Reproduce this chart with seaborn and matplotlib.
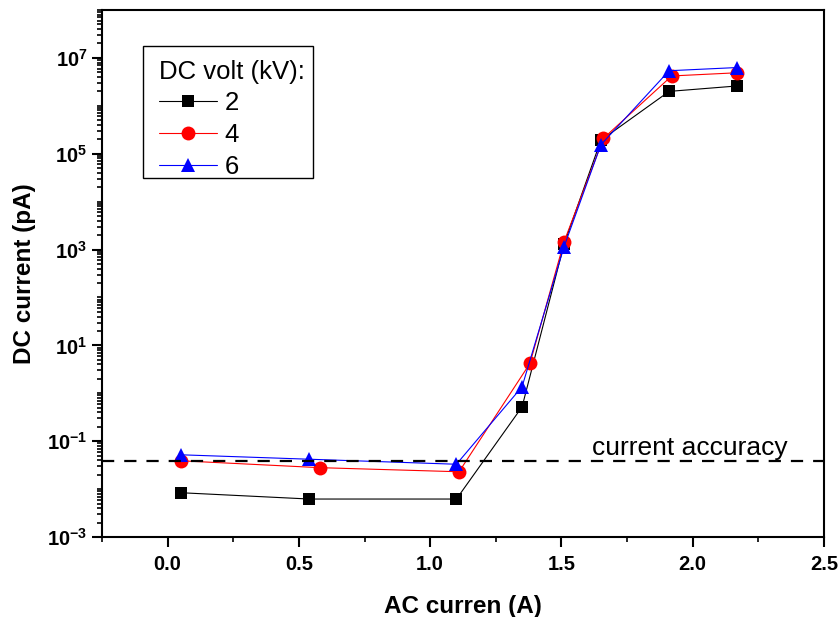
import numpy as np
import pandas as pd
import seaborn as sns
import matplotlib
matplotlib.use('Agg')
import matplotlib.pyplot as plt
from matplotlib import ticker
from matplotlib.patches import Rectangle

# AC current (A) and DC current (pA) for each DC voltage (kV)
volt_labels = ['2', '4', '6']
ac_2kv = [0.05, 0.54, 1.10, 1.35, 1.51, 1.65, 1.91, 2.17]
dc_2kv = [0.0084, 0.0062, 0.0062, 0.52, 1300, 1.9e5, 2.0e6, 2.6e6]
ac_4kv = [0.05, 0.58, 1.11, 1.38, 1.51, 1.66, 1.92, 2.17]
dc_4kv = [0.039, 0.028, 0.023, 4.2, 1460, 2.1e5, 4.2e6, 4.9e6]
ac_6kv = [0.05, 0.54, 1.10, 1.35, 1.51, 1.65, 1.91, 2.17]
dc_6kv = [0.052, 0.042, 0.033, 1.37, 1150, 1.53e5, 5.4e6, 6.3e6]
accuracy_level = 0.039

df = pd.concat([
    pd.DataFrame({'ac': ac_2kv, 'dc': dc_2kv, 'volt': '2'}),
    pd.DataFrame({'ac': ac_4kv, 'dc': dc_4kv, 'volt': '4'}),
    pd.DataFrame({'ac': ac_6kv, 'dc': dc_6kv, 'volt': '6'}),
], ignore_index=True)

sns.set_style('ticks')
plt.rcParams['font.family'] = ['Liberation Sans', 'DejaVu Sans']
plt.rcParams['mathtext.fontset'] = 'custom'
plt.rcParams['mathtext.bf'] = 'Liberation Sans:bold'
plt.rcParams['mathtext.rm'] = 'Liberation Sans'
for key in ['text.color', 'axes.labelcolor', 'xtick.color', 'ytick.color', 'axes.edgecolor']:
    plt.rcParams[key] = 'black'

fig = plt.figure(figsize=(8.4, 6.17), dpi=100)
ax = fig.add_axes([102 / 840, 1 - 537 / 617, 722 / 840, 527 / 617])

colors = {'2': 'black', '4': 'red', '6': 'blue'}
markers = {'2': 's', '4': 'o', '6': '^'}
sns.lineplot(data=df, x='ac', y='dc', hue='volt', style='volt',
             hue_order=volt_labels, palette=colors, markers=markers,
             dashes=False, linewidth=0.8, markersize=10,
             markeredgewidth=0, legend=False, ax=ax)
sizes = {'2': 8.5, '4': 10, '6': 10.5}
for line, v in zip(ax.get_lines()[:3], volt_labels):
    line.set_markersize(sizes[v])

ax.axhline(accuracy_level, color='black', linewidth=1.6, dashes=(5.5, 4.5))
ax.text(1.617, accuracy_level * 1.33, 'current accuracy', fontsize=19,
        va='baseline', ha='left')

ax.set_yscale('log')
ax.set_xlim(-0.25, 2.5)
ax.set_ylim(1e-3, 1e8)
ax.xaxis.set_major_locator(ticker.MultipleLocator(0.5))
ax.xaxis.set_minor_locator(ticker.MultipleLocator(0.25))
ax.xaxis.set_major_formatter(ticker.FormatStrFormatter('%.1f'))
ax.yaxis.set_major_locator(ticker.FixedLocator(10.0 ** np.arange(-3, 8, 2)))
ax.yaxis.set_minor_locator(ticker.LogLocator(base=10, subs=np.arange(1, 10), numticks=30))
ax.yaxis.set_minor_formatter(ticker.NullFormatter())
ax.yaxis.set_major_formatter(ticker.FuncFormatter(
    lambda v, p: r'$\mathbf{10^{%d}}$' % int(round(np.log10(v)))))

for s in ax.spines.values():
    s.set_linewidth(1.5)
    s.set_color('black')
ax.tick_params(which='major', length=7, width=1.5, labelsize=14.5, colors='black')
ax.tick_params(axis='x', which='major', pad=6)
ax.tick_params(which='minor', length=3.5, width=1.2)
for lab in ax.get_xticklabels():
    lab.set_fontweight('bold')

ax.set_xlabel('AC curren (A)', fontsize=17.5, fontweight='bold', labelpad=15)
ax.set_ylabel('DC current (pA)', fontsize=17.5, fontweight='bold', labelpad=8)

# legend without its own frame; the box is drawn separately
leg = ax.legend(ax.get_lines()[:3], volt_labels, title='DC volt (kV):',
                loc='upper left', bbox_to_anchor=(0.079, 0.906), borderaxespad=0,
                fontsize=18.5, title_fontsize=18.5, frameon=False,
                handlelength=2.25, handletextpad=0.3,
                labelspacing=0.3, borderpad=0, alignment='left')
ax.add_patch(Rectangle((0.0568, 0.6812), 0.2355, 0.2505, transform=ax.transAxes,
                       fill=False, edgecolor='black', linewidth=1.0, zorder=5))

fig.savefig('out.png', dpi=100)
